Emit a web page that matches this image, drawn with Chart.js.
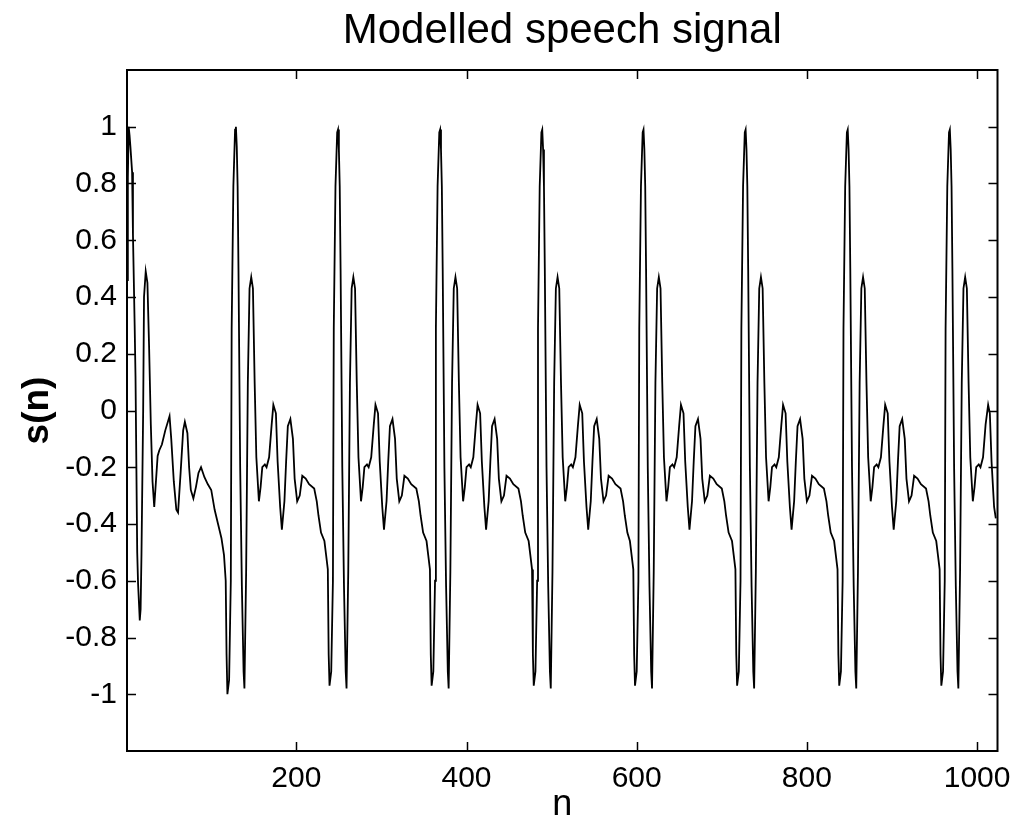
<!DOCTYPE html>
<html>
<head>
<meta charset="utf-8">
<title>Modelled speech signal</title>
<script src="https://cdn.jsdelivr.net/npm/chart.js@4.4.1/dist/chart.umd.min.js"></script>
<style>
  html, body { margin: 0; padding: 0; background: #fff; }
  #wrap { width: 1021px; height: 833px; }
</style>
</head>
<body>
<div id="wrap"><canvas id="chart" width="1021" height="833"></canvas></div>
<script>
// values, [n, s(n)] vertices
const startup = [[1,0.46],[2,0.82],[3,1.0],[4,0.97],[5,0.93],[7,0.84],[8,0.62],[10,0.3],[11,0.12],[13,-0.5],[14,-0.61],[16,-0.74],[17,-0.7],[18,-0.51],[20,0.0],[21,0.4],[23,0.49],[25,0.45],[27,0.22],[29,-0.05],[31,-0.25],[33,-0.34],[35,-0.25],[37,-0.16],[39,-0.14],[42,-0.12],[46,-0.07],[51,-0.02],[53,-0.1],[56,-0.25],[59,-0.35],[61,-0.36],[64,-0.22],[67,-0.07],[69,-0.04],[72,-0.08],[74,-0.2],[76,-0.28],[79,-0.31],[82,-0.27],[85,-0.22],[88,-0.2],[92,-0.235],[96,-0.26],[100,-0.28],[104,-0.35],[108,-0.4],[112,-0.45]];

const cycle1 = [[115,-0.51],[117,-0.6],[118,-0.86],[119,-1.0],[121,-0.95],[123,-0.6],[124,0.29],[126,0.79],[128,0.99],[129,1.0],[130,0.93],[131,0.79],[132,0.5],[134,-0.2],[136,-0.62],[138,-0.92],[139,-0.98],[141,-0.57],[143,0.1],[145,0.43],[147,0.47],[149,0.43],[151,0.1],[153,-0.165],[156,-0.32],[158,-0.27],[160,-0.2],[163,-0.19],[165,-0.2],[168,-0.165],[171,-0.05],[173,0.02],[176,-0.01],[178,-0.18],[181,-0.34],[183,-0.42],[186,-0.32],[188,-0.18],[190,-0.055],[193,-0.03],[196,-0.1],[198,-0.24],[201,-0.32],[204,-0.3],[207,-0.23],[211,-0.24],[215,-0.26],[221,-0.275],[224,-0.32],[226,-0.37],[229,-0.43],[233,-0.46]];

const cycle2 = [[235,-0.51],[237,-0.56],[238,-0.86],[239,-0.97],[241,-0.92],[243,-0.6],[244,0.29],[246,0.79],[248,0.98],[249,0.99],[250,0.92],[251,0.79],[252,0.5],[254,-0.2],[256,-0.62],[258,-0.92],[259,-0.98],[261,-0.57],[263,0.1],[265,0.43],[267,0.47],[269,0.43],[271,0.1],[273,-0.165],[276,-0.32],[278,-0.27],[280,-0.2],[283,-0.19],[285,-0.2],[288,-0.165],[291,-0.05],[293,0.02],[296,-0.01],[298,-0.18],[301,-0.34],[303,-0.42],[306,-0.32],[308,-0.18],[310,-0.055],[313,-0.03],[316,-0.1],[318,-0.24],[321,-0.32],[324,-0.3],[327,-0.23],[331,-0.24],[335,-0.26],[341,-0.275],[344,-0.32],[346,-0.37],[349,-0.43],[353,-0.46]];

const cycle3 = [[355,-0.51],[357,-0.56],[358,-0.86],[359,-0.97],[361,-0.92],[363,-0.6],[364,0.29],[366,0.79],[368,0.98],[369,0.99],[370,0.92],[371,0.79],[372,0.5],[374,-0.2],[376,-0.62],[378,-0.92],[379,-0.98],[381,-0.57],[383,0.1],[385,0.43],[387,0.47],[389,0.43],[391,0.1],[393,-0.165],[396,-0.32],[398,-0.27],[400,-0.2],[403,-0.19],[405,-0.2],[408,-0.165],[411,-0.05],[413,0.02],[416,-0.01],[418,-0.18],[421,-0.34],[423,-0.42],[426,-0.32],[428,-0.18],[430,-0.055],[433,-0.03],[436,-0.1],[438,-0.24],[441,-0.32],[444,-0.3],[447,-0.23],[451,-0.24],[455,-0.26],[461,-0.275],[464,-0.32],[466,-0.37],[469,-0.43],[473,-0.46]];

const cycle4 = [[475,-0.51],[477,-0.56],[478,-0.86],[479,-0.97],[481,-0.92],[483,-0.6],[484,0.29],[486,0.79],[488,0.98],[489,0.99],[490,0.92],[491,0.79],[492,0.5],[494,-0.2],[496,-0.62],[498,-0.92],[499,-0.98],[501,-0.57],[503,0.1],[505,0.43],[507,0.47],[509,0.43],[511,0.1],[513,-0.165],[516,-0.32],[518,-0.27],[520,-0.2],[523,-0.19],[525,-0.2],[528,-0.165],[531,-0.05],[533,0.02],[536,-0.01],[538,-0.18],[541,-0.34],[543,-0.42],[546,-0.32],[548,-0.18],[550,-0.055],[553,-0.03],[556,-0.1],[558,-0.24],[561,-0.32],[564,-0.3],[567,-0.23],[571,-0.24],[575,-0.26],[581,-0.275],[584,-0.32],[586,-0.37],[589,-0.43],[592,-0.46]];

const cycle5 = [[594,-0.51],[596,-0.56],[597,-0.86],[598,-0.97],[600,-0.92],[602,-0.6],[603,0.29],[605,0.79],[607,0.98],[608,0.99],[609,0.92],[610,0.79],[611,0.5],[613,-0.2],[615,-0.62],[617,-0.92],[618,-0.98],[620,-0.57],[622,0.1],[624,0.43],[626,0.47],[628,0.43],[630,0.1],[632,-0.165],[635,-0.32],[637,-0.27],[639,-0.2],[642,-0.19],[644,-0.2],[647,-0.165],[650,-0.05],[652,0.02],[655,-0.01],[657,-0.18],[660,-0.34],[662,-0.42],[665,-0.32],[667,-0.18],[669,-0.055],[672,-0.03],[675,-0.1],[677,-0.24],[680,-0.32],[683,-0.3],[686,-0.23],[690,-0.24],[694,-0.26],[700,-0.275],[703,-0.32],[705,-0.37],[708,-0.43],[712,-0.46]];

const cycle6 = [[714,-0.51],[716,-0.56],[717,-0.86],[718,-0.97],[720,-0.92],[722,-0.6],[723,0.29],[725,0.79],[727,0.98],[728,0.99],[729,0.92],[730,0.79],[731,0.5],[733,-0.2],[735,-0.62],[737,-0.92],[738,-0.98],[740,-0.57],[742,0.1],[744,0.43],[746,0.47],[748,0.43],[750,0.1],[752,-0.165],[755,-0.32],[757,-0.27],[759,-0.2],[762,-0.19],[764,-0.2],[767,-0.165],[770,-0.05],[772,0.02],[775,-0.01],[777,-0.18],[780,-0.34],[782,-0.42],[785,-0.32],[787,-0.18],[789,-0.055],[792,-0.03],[795,-0.1],[797,-0.24],[800,-0.32],[803,-0.3],[806,-0.23],[810,-0.24],[814,-0.26],[820,-0.275],[823,-0.32],[825,-0.37],[828,-0.43],[832,-0.46]];

const cycle7 = [[834,-0.51],[836,-0.56],[837,-0.86],[838,-0.97],[840,-0.92],[842,-0.6],[843,0.29],[845,0.79],[847,0.98],[848,0.99],[849,0.92],[850,0.79],[851,0.5],[853,-0.2],[855,-0.62],[857,-0.92],[858,-0.98],[860,-0.57],[862,0.1],[864,0.43],[866,0.47],[868,0.43],[870,0.1],[872,-0.165],[875,-0.32],[877,-0.27],[879,-0.2],[882,-0.19],[884,-0.2],[887,-0.165],[890,-0.05],[892,0.02],[895,-0.01],[897,-0.18],[900,-0.34],[902,-0.42],[905,-0.32],[907,-0.18],[909,-0.055],[912,-0.03],[915,-0.1],[917,-0.24],[920,-0.32],[923,-0.3],[926,-0.23],[930,-0.24],[934,-0.26],[940,-0.275],[943,-0.32],[945,-0.37],[948,-0.43],[952,-0.46]];

const cycle8 = [[954,-0.51],[956,-0.56],[957,-0.86],[958,-0.97],[960,-0.92],[962,-0.6],[963,0.29],[965,0.79],[967,0.98],[968,0.99],[969,0.92],[970,0.79],[971,0.5],[973,-0.2],[975,-0.62],[977,-0.92],[978,-0.98],[980,-0.57],[982,0.1],[984,0.43],[986,0.47],[988,0.43],[990,0.1],[992,-0.165],[995,-0.32],[997,-0.27],[999,-0.2],[1002,-0.19],[1004,-0.2],[1007,-0.165],[1010,-0.05],[1013,0.02],[1015,-0.01],[1017,-0.18],[1020,-0.34],[1022,-0.38]];

const xTickVals = [200, 400, 600, 800, 1000];
const yTickVals = [-1, -0.8, -0.6, -0.4, -0.2, 0, 0.2, 0.4, 0.6, 0.8, 1];

const signal = [].concat(startup, cycle1, cycle2, cycle3, cycle4, cycle5, cycle6, cycle7, cycle8)
  .map(p => ({x: p[0], y: p[1]}));

const FONT = "'Liberation Sans', Arial, Helvetica, sans-serif";

// matlab style box with ticks pointing inwards
const boxTicks = {
  id: 'boxTicks',
  afterDatasetsDraw(chart) {
    const ctx = chart.ctx;
    const a = chart.chartArea;
    const xs = chart.scales.x, ys = chart.scales.y;
    const len = 9;
    ctx.save();
    ctx.strokeStyle = '#000';
    ctx.lineWidth = 1.5;
    ctx.beginPath();
    xTickVals.forEach(v => {
      const px = Math.round(xs.getPixelForValue(v)) + 0.5;
      ctx.moveTo(px, a.bottom); ctx.lineTo(px, a.bottom - len);
      ctx.moveTo(px, a.top); ctx.lineTo(px, a.top + len);
    });
    yTickVals.forEach(v => {
      const py = Math.round(ys.getPixelForValue(v)) + 0.5;
      ctx.moveTo(a.left, py); ctx.lineTo(a.left + len, py);
      ctx.moveTo(a.right, py); ctx.lineTo(a.right - len, py);
    });
    ctx.stroke();
    ctx.lineWidth = 2;
    ctx.strokeRect(a.left, a.top, a.right - a.left, a.bottom - a.top);
    ctx.restore();
  }
};

const ctx = document.getElementById('chart').getContext('2d');
new Chart(ctx, {
  type: 'line',
  data: {
    datasets: [{
      label: 's(n)',
      data: signal,
      borderColor: '#000',
      borderWidth: 1.8,
      pointRadius: 0,
      tension: 0,
      fill: false
    }]
  },
  options: {
    responsive: false,
    animation: false,
    layout: { padding: { left: 0, right: 22, top: 0, bottom: 0 } },
    plugins: {
      legend: { display: false },
      tooltip: { enabled: false },
      title: {
        display: true,
        text: 'Modelled speech signal',
        fullSize: false,
        color: '#000',
        font: { family: FONT, size: 42, weight: 'normal', lineHeight: 1.2 },
        padding: { top: 6, bottom: 13.6 }
      }
    },
    scales: {
      x: {
        type: 'linear',
        min: 1,
        max: 1024,
        afterBuildTicks: s => { s.ticks = xTickVals.map(v => ({ value: v })); },
        afterFit: s => { s.height = 82; },
        grid: { display: false, drawTicks: false },
        border: { display: false },
        ticks: {
          color: '#000',
          padding: 10,
          maxRotation: 0,
          font: { family: FONT, size: 30 },
          callback: v => String(v)
        },
        title: {
          display: true,
          text: 'n',
          color: '#000',
          font: { family: FONT, size: 36, weight: 'normal', lineHeight: 1.2 },
          padding: { top: 0, bottom: 6 }
        }
      },
      y: {
        type: 'linear',
        min: -1.2,
        max: 1.2,
        afterBuildTicks: s => { s.ticks = yTickVals.map(v => ({ value: v })); },
        afterFit: s => { s.width = 127; },
        grid: { display: false, drawTicks: false },
        border: { display: false },
        ticks: {
          color: '#000',
          padding: 10,
          font: { family: FONT, size: 30 },
          callback: v => String(Math.round(v * 10) / 10)
        },
        title: {
          display: true,
          text: 's(n)',
          color: '#000',
          font: { family: FONT, size: 37, weight: 'bold', lineHeight: 1.2 },
          padding: { top: 16, bottom: 0 }
        }
      }
    }
  },
  plugins: [boxTicks]
});
</script>
</body>
</html>
